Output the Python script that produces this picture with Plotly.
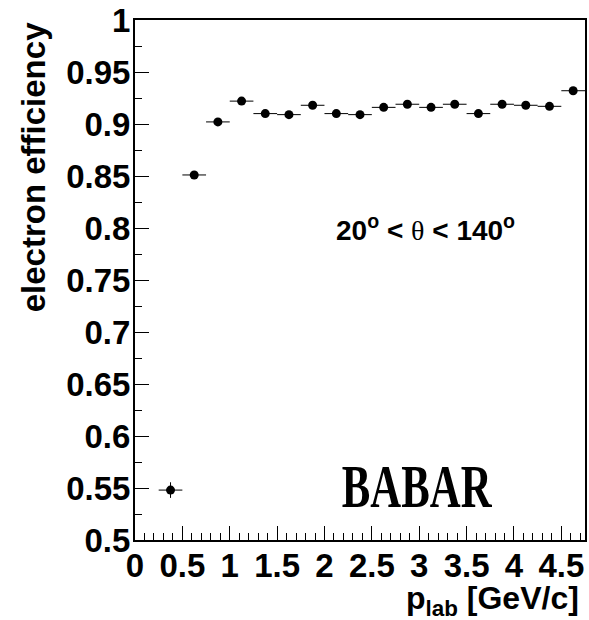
import plotly.graph_objects as go

# ---- data ----
p_center = [0.375, 0.625, 0.875, 1.125, 1.375, 1.625, 1.875, 2.125, 2.375,
            2.625, 2.875, 3.125, 3.375, 3.625, 3.875, 4.125, 4.375, 4.625]
p_halfwidth = [0.125] * 18
efficiency = [0.548, 0.851, 0.902, 0.922, 0.910, 0.909, 0.918, 0.910, 0.909,
              0.916, 0.919, 0.916, 0.919, 0.910, 0.919, 0.918, 0.917, 0.932]
efficiency_err = [0.0075, 0.003, 0.002, 0.002, 0.002, 0.002, 0.002, 0.002, 0.002,
                  0.002, 0.002, 0.002, 0.002, 0.002, 0.002, 0.002, 0.002, 0.003]

x_tick_vals = [0, 0.5, 1, 1.5, 2, 2.5, 3, 3.5, 4, 4.5]
x_tick_text = ["0", "0.5", "1", "1.5", "2", "2.5", "3", "3.5", "4", "4.5"]
y_tick_vals = [0.5, 0.55, 0.6, 0.65, 0.7, 0.75, 0.8, 0.85, 0.9, 0.95, 1.0]
y_tick_text = ["0.5", "0.55", "0.6", "0.65", "0.7", "0.75", "0.8", "0.85", "0.9", "0.95", "1"]

SANS = "Liberation Sans, Arial, Helvetica, sans-serif"
SERIF = "Liberation Serif, Times New Roman, serif"

fig = go.Figure()
fig.add_trace(go.Scatter(
    x=p_center, y=efficiency, mode="markers",
    marker=dict(color="black", size=9),
    error_x=dict(type="data", array=p_halfwidth, color="black", thickness=1, width=0),
    error_y=dict(type="data", array=efficiency_err, color="black", thickness=1, width=0),
    showlegend=False,
))

tickfont = dict(family=SANS, size=33, color="black", weight="bold")

fig.update_layout(
    width=589, height=620,
    margin=dict(l=135, r=2, t=20, b=80),
    paper_bgcolor="white", plot_bgcolor="white",
    xaxis=dict(
        range=[0, 4.75], showgrid=False, zeroline=False,
        showline=True, linecolor="black", linewidth=2, mirror=True,
        ticks="inside", ticklen=14, tickwidth=1, tickcolor="black",
        tickmode="array", tickvals=x_tick_vals, ticktext=x_tick_text,
        tickfont=tickfont, ticklabelstandoff=-5,
        minor=dict(ticks="inside", ticklen=7, tickwidth=1, tickcolor="black",
                   tickmode="linear", tick0=0, dtick=0.1, showgrid=False),
    ),
    yaxis=dict(
        range=[0.5, 1.0], showgrid=False, zeroline=False,
        showline=True, linecolor="black", linewidth=2, mirror=True,
        ticks="inside", ticklen=14, tickwidth=1, tickcolor="black",
        tickmode="array", tickvals=y_tick_vals, ticktext=y_tick_text,
        tickfont=tickfont, ticklabelstandoff=-4,
        minor=dict(ticks="inside", ticklen=7, tickwidth=1, tickcolor="black",
                   tickmode="linear", tick0=0.5, dtick=0.025, showgrid=False),
    ),
)

annotations = [
    dict(text="electron efficiency", xref="paper", yref="paper",
         x=-0.226, y=1.0, xanchor="center", yanchor="top", textangle=-90,
         showarrow=False, font=dict(family=SANS, size=33, color="black", weight="bold")),
    dict(text="p<sub>lab</sub> [GeV/c]", xref="paper", yref="paper",
         x=0.992, y=-0.074, xanchor="right", yanchor="top",
         showarrow=False, font=dict(family=SANS, size=32, color="black", weight="bold")),
    dict(text="<b>20<sup>o</sup> &lt; </b><span style=\"font-family:'Liberation Serif', serif\">θ</span><b> &lt; 140<sup>o</sup></b>",
         xref="x", yref="y", x=3.07, y=0.80, xanchor="center", yanchor="middle",
         showarrow=False, font=dict(family=SANS, size=28, color="black")),
    dict(text="BABAR", xref="x", yref="y", x=2.978, y=0.552,
         xanchor="center", yanchor="middle", showarrow=False,
         font=dict(family=SERIF, size=62, color="black", weight="bold")),
]
fig.update_layout(annotations=annotations)

post = """
document.querySelectorAll('.annotation-text').forEach(function(t){
  if (t.textContent === 'BABAR') {
    var bb = t.getBBox();
    var cx = bb.x + bb.width / 2;
    t.setAttribute('transform', 'translate(' + cx + ',0) scale(0.69,1) translate(' + (-cx) + ',0)');
  }
});
"""

fig.write_html("out.html", post_script=post)
